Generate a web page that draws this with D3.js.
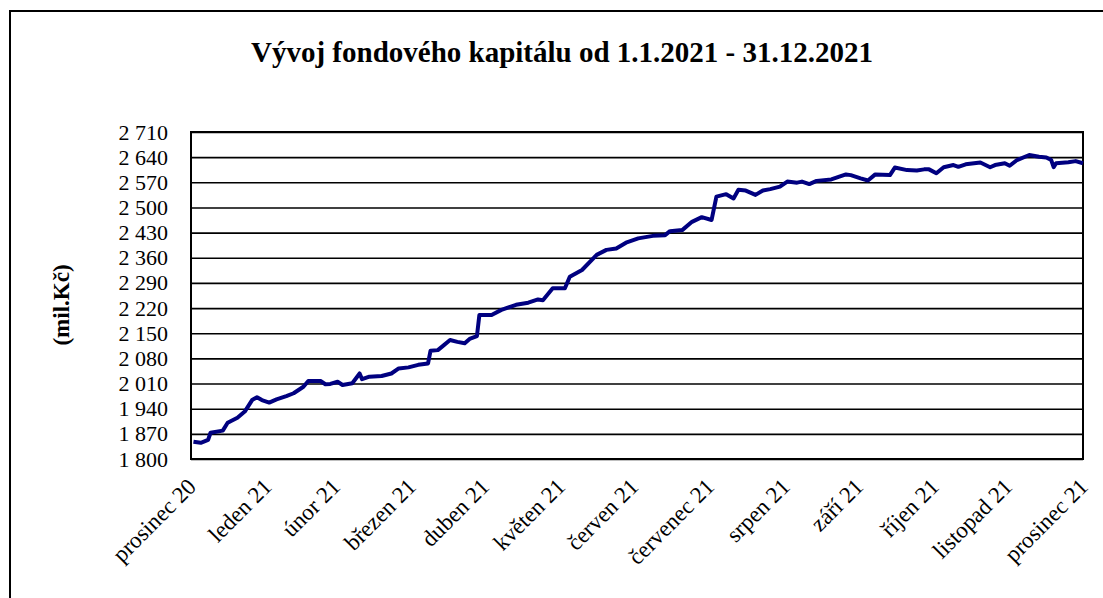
<!DOCTYPE html>
<html>
<head>
<meta charset="utf-8">
<script src="https://cdn.jsdelivr.net/npm/d3@7"></script>
<style>
  body { margin: 0; background: #fff; }
</style>
</head>
<body>
<div id="chart"></div>
<script>
// daily values (mil. Kč)
var dates = [
  "2021-01-01","2021-01-04","2021-01-07","2021-01-08","2021-01-13","2021-01-15","2021-01-19","2021-01-22",
  "2021-01-25","2021-01-27","2021-01-29","2021-02-01","2021-02-04","2021-02-08","2021-02-11","2021-02-15",
  "2021-02-17","2021-02-22","2021-02-24","2021-02-26","2021-03-01","2021-03-03","2021-03-07","2021-03-10",
  "2021-03-11","2021-03-14","2021-03-19","2021-03-23","2021-03-26","2021-03-30","2021-04-03","2021-04-07",
  "2021-04-08","2021-04-11","2021-04-13","2021-04-16","2021-04-19","2021-04-22","2021-04-24","2021-04-27",
  "2021-04-28","2021-05-03","2021-05-07","2021-05-13","2021-05-18","2021-05-22","2021-05-24","2021-05-28",
  "2021-06-02","2021-06-04","2021-06-09","2021-06-15","2021-06-19","2021-06-23","2021-06-27","2021-07-02",
  "2021-07-08","2021-07-13","2021-07-15","2021-07-20","2021-07-24","2021-07-28","2021-08-01","2021-08-03",
  "2021-08-07","2021-08-10","2021-08-12","2021-08-15","2021-08-19","2021-08-22","2021-08-25","2021-08-29",
  "2021-09-01","2021-09-05","2021-09-07","2021-09-10","2021-09-13","2021-09-19","2021-09-25","2021-09-27",
  "2021-10-01","2021-10-04","2021-10-07","2021-10-13","2021-10-15","2021-10-20","2021-10-24","2021-10-27",
  "2021-10-29","2021-11-01","2021-11-04","2021-11-08","2021-11-10","2021-11-13","2021-11-19","2021-11-23",
  "2021-11-25","2021-11-29","2021-12-01","2021-12-04","2021-12-09","2021-12-13","2021-12-16","2021-12-18",
  "2021-12-19","2021-12-20","2021-12-25","2021-12-28","2021-12-31"
];
var values = [
  1848,1845,1853,1873,1879,1901,1915,1932,
  1964,1972,1964,1957,1966,1975,1983,2001,
  2017,2017,2008,2009,2015,2006,2011,2038,
  2022,2029,2031,2038,2052,2055,2062,2066,
  2101,2103,2114,2131,2126,2122,2134,2142,
  2201,2201,2215,2229,2235,2244,2242,2275,
  2275,2307,2326,2368,2382,2386,2402,2414,
  2421,2423,2434,2437,2460,2473,2465,2530,
  2537,2525,2549,2547,2535,2547,2551,2558,
  2572,2569,2572,2565,2574,2578,2592,2590,
  2581,2575,2592,2590,2611,2604,2603,2606,
  2606,2595,2612,2618,2613,2620,2625,2612,
  2618,2623,2616,2632,2646,2641,2639,2632,
  2612,2623,2626,2629,2623
];
var yTicks = [1800,1870,1940,2010,2080,2150,2220,2290,2360,2430,2500,2570,2640,2710];
var monthLabels = ["prosinec 20","leden 21","únor 21","březen 21","duben 21","květen 21","červen 21",
  "červenec 21","srpen 21","září 21","říjen 21","listopad 21","prosinec 21"];
var title = "Vývoj fondového kapitálu od 1.1.2021 - 31.12.2021";
var yTitle = "(mil.Kč)";

var width = 1103, height = 598;
var margin = {left: 191, right: 20, top: 132, bottom: 139};
var plotW = width - margin.left - margin.right;   // 892
var plotH = height - margin.top - margin.bottom;  // 327
var serif = '"Liberation Serif"';

var parse = d3.timeParse("%Y-%m-%d");
var data = dates.map(function(d, i){ return {date: parse(d), value: values[i]}; });

// ticks sit on the last day of each month
var monthEnds = d3.timeMonth.range(parse("2021-01-01"), parse("2022-01-02"))
  .map(function(m){ return d3.timeDay.offset(m, -1); });

var x = d3.scaleTime()
  .domain([monthEnds[0], monthEnds[monthEnds.length - 1]])
  .range([0, plotW]);
var y = d3.scaleLinear()
  .domain([1800, 2710])
  .range([plotH, 0]);

var cz = d3.formatLocale({decimal: ",", thousands: " ", grouping: [3], currency: ["", ""]});
var fmt = cz.format(",");

var svg = d3.select('#chart')
  .append('svg')
  .attr('width', width)
  .attr('height', height);

svg.append('rect')
  .attr('width', width).attr('height', height)
  .attr('fill', '#fff');

// outer chart frame (runs off the right/bottom edge)
svg.append('rect')
  .attr('x', 10).attr('y', 11)
  .attr('width', 1110).attr('height', 620)
  .attr('fill', 'none')
  .attr('stroke', '#000')
  .attr('stroke-width', 2);

svg.append('text')
  .attr('x', 562)
  .attr('y', 62)
  .attr('text-anchor', 'middle')
  .style('font-family', serif)
  .style('font-size', '29px')
  .style('font-weight', 'bold')
  .text(title);

svg.append('text')
  .attr('transform', 'translate(69,305) rotate(-90)')
  .attr('text-anchor', 'middle')
  .style('font-family', serif)
  .style('font-size', '23px')
  .style('font-weight', 'bold')
  .text(yTitle);

var g = svg.append('g')
  .attr('transform', 'translate(' + margin.left + ',' + margin.top + ')');

// gridlines + y labels
var yAxis = g.append('g')
  .call(d3.axisLeft(y).tickValues(yTicks).tickSize(-plotW).tickPadding(23).tickFormat(fmt));
yAxis.select('.domain').remove();
yAxis.selectAll('line').attr('stroke', '#000').attr('stroke-width', 1.6);
yAxis.selectAll('text')
  .attr('fill', '#000')
  .style('font-size', '22px')
  .style('font-family', serif);

// x labels
var xAxis = g.append('g')
  .attr('transform', 'translate(0,' + plotH + ')')
  .call(d3.axisBottom(x).tickValues(monthEnds).tickSize(0)
    .tickFormat(function(d, i){ return monthLabels[i]; }));
xAxis.select('.domain').remove();
xAxis.selectAll('text')
  .attr('fill', '#000')
  .attr('x', 0).attr('y', 0).attr('dy', 0)
  .attr('text-anchor', 'end')
  .attr('transform', 'translate(6,29) rotate(-45)')
  .style('font-size', '23px')
  .style('font-family', serif);

// plot border
g.append('rect')
  .attr('width', plotW).attr('height', plotH)
  .attr('fill', 'none')
  .attr('stroke', '#000')
  .attr('stroke-width', 2);

var line = d3.line()
  .x(function(d){ return x(d.date); })
  .y(function(d){ return y(d.value); });

g.append('path')
  .datum(data)
  .attr('d', line)
  .attr('fill', 'none')
  .attr('stroke', '#000080')
  .attr('stroke-width', 4)
  .attr('stroke-linejoin', 'round');
</script>
</body>
</html>
